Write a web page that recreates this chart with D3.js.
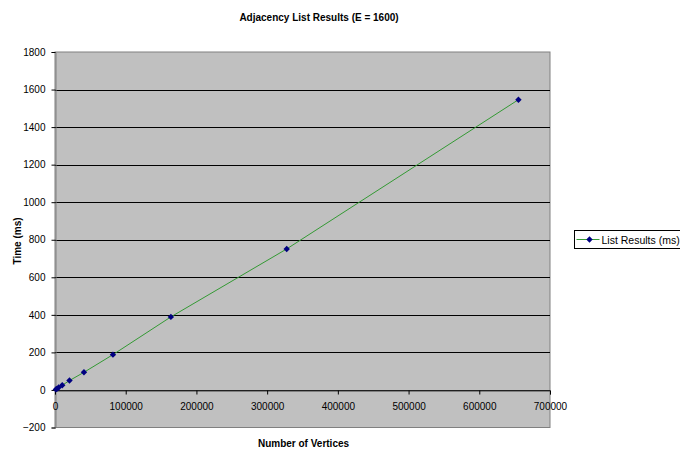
<!DOCTYPE html>
<html>
<head>
<meta charset="utf-8">
<script src="https://cdn.jsdelivr.net/npm/d3@7"></script>
<style>
  html, body { margin: 0; padding: 0; background: #fff; }
  svg { display: block; font-family: "Liberation Sans", Arial, sans-serif; }
</style>
</head>
<body>
<svg id="chart" width="680" height="453"></svg>
<script>
// Number of vertices in each run and the measured time (ms)
const vertices = [1280, 2560, 5120, 10240, 20480, 40960, 81920, 163840, 327680, 655360];
const timesMs  = [3, 6, 13, 25, 50, 94, 188, 389, 751, 1546];
const xTicks = [0, 100000, 200000, 300000, 400000, 500000, 600000, 700000];
const yTicks = [-200, 0, 200, 400, 600, 800, 1000, 1200, 1400, 1600, 1800];
const seriesName = "List Results (ms)";

const svg = d3.select("#chart");
const plot = { left: 55, right: 550, top: 52, bottom: 427.5 };

const x = d3.scaleLinear().domain([0, 700000]).range([plot.left, plot.right]);
const y = d3.scaleLinear().domain([-200, 1800]).range([plot.bottom, plot.top]);

// plot area
svg.append("rect")
  .attr("x", plot.left).attr("y", plot.top)
  .attr("width", plot.right - plot.left).attr("height", plot.bottom - plot.top)
  .attr("fill", "#c0c0c0").attr("stroke", "#808080").attr("stroke-width", 1);

// horizontal gridlines
svg.append("g").selectAll("line")
  .data(yTicks.filter(d => d > -200 && d < 1800))
  .join("line")
  .attr("x1", plot.left).attr("x2", plot.right)
  .attr("y1", d => Math.round(y(d)) + 0.5).attr("y2", d => Math.round(y(d)) + 0.5)
  .attr("stroke", "#000").attr("stroke-width", 1);

// y axis
const yAxis = svg.append("g")
  .attr("transform", `translate(${plot.left + 0.5},0)`)
  .call(d3.axisLeft(y).tickValues(yTicks).tickSize(4).tickPadding(6).tickFormat(d3.format("d")));
yAxis.select(".domain").attr("stroke", "#808080");
yAxis.selectAll(".tick line").attr("stroke", "#000");
yAxis.selectAll("text").attr("font-size", 10).attr("fill", "#000")
  .attr("font-family", "'Liberation Sans', Arial, sans-serif");

// x axis drawn along y = 0
const xAxis = svg.append("g")
  .attr("transform", `translate(0,${Math.round(y(0)) + 0.5})`)
  .call(d3.axisBottom(x).tickValues(xTicks).tickSize(4).tickPadding(8).tickFormat(d3.format("d")));
xAxis.select(".domain").attr("stroke", "#404040");
xAxis.selectAll(".tick line").attr("stroke", "#000");
xAxis.selectAll("text").attr("font-size", 10).attr("fill", "#000")
  .attr("font-family", "'Liberation Sans', Arial, sans-serif");

// series line and markers
const pts = vertices.map((v, i) => ({ v, t: timesMs[i] }));
svg.append("path")
  .datum(pts)
  .attr("fill", "none").attr("stroke", "#339933").attr("stroke-width", 1)
  .attr("d", d3.line().x(d => x(d.v)).y(d => y(d.t)));

const diamond = d3.symbol().type(d3.symbolDiamond2).size(26);
svg.append("g").selectAll("path")
  .data(pts)
  .join("path")
  .attr("d", diamond)
  .attr("transform", d => `translate(${x(d.v)},${y(d.t)})`)
  .attr("fill", "#000080");

// titles
svg.append("text")
  .attr("x", 319).attr("y", 21).attr("text-anchor", "middle")
  .attr("font-size", 10).attr("font-weight", "bold")
  .text("Adjacency List Results (E = 1600)");

svg.append("text")
  .attr("x", 303.5).attr("y", 447).attr("text-anchor", "middle")
  .attr("font-size", 10).attr("font-weight", "bold")
  .text("Number of Vertices");

svg.append("text")
  .attr("transform", "translate(21,241) rotate(-90)")
  .attr("text-anchor", "middle")
  .attr("font-size", 10).attr("font-weight", "bold")
  .text("Time (ms)");

// legend
const lg = svg.append("g").attr("transform", "translate(574.5,230.5)");
lg.append("rect").attr("width", 110).attr("height", 18)
  .attr("fill", "#fff").attr("stroke", "#000").attr("stroke-width", 1);
lg.append("line").attr("x1", 2).attr("x2", 25).attr("y1", 9).attr("y2", 9)
  .attr("stroke", "#339933").attr("stroke-width", 1);
lg.append("path").attr("d", diamond).attr("transform", "translate(15,9)").attr("fill", "#000080");
lg.append("text").attr("x", 27).attr("y", 13).attr("font-size", 10.5).text(seriesName);
</script>
</body>
</html>
